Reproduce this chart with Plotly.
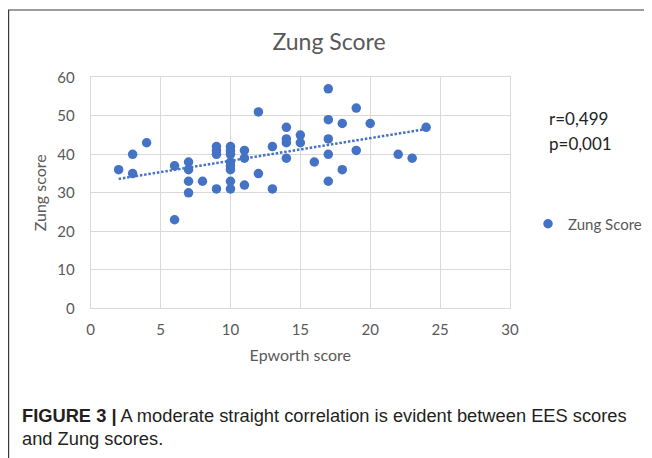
import numpy as np
import plotly.graph_objects as go

epworth = [2, 3, 3, 4, 6, 6, 7, 7, 7, 7, 8,
           9, 9, 9, 9,
           10, 10, 10, 10, 10, 10, 10, 10,
           11, 11, 11, 12, 12, 13, 13,
           14, 14, 14, 14, 15, 15, 16,
           17, 17, 17, 17, 17, 18, 18, 19, 19, 20, 22, 23, 24]
zung = [36, 40, 35, 43, 37, 23, 38, 36, 33, 30, 33,
        42, 41, 40, 31,
        42, 41, 40, 38, 37, 36, 33, 31,
        41, 39, 32, 51, 35, 42, 31,
        47, 44, 43, 39, 45, 43, 38,
        57, 49, 44, 40, 33, 48, 36, 52, 41, 48, 40, 39, 47]

x_ticks = [0, 5, 10, 15, 20, 25, 30]
y_ticks = [0, 10, 20, 30, 40, 50, 60]
stats_text = ["r=0,499", "p=0,001"]

BLUE = "#4472C4"
GRAY = "#595959"
FONT = "Lato"

# page offset of the figure (default body margin)
OFF = 8
W, H = 644, 450


def px(X):
    return (X - OFF) / W


def py(Y):
    return 1 - (Y - OFF) / H


slope, intercept = np.polyfit(epworth, zung, 1)
tx = np.array([min(epworth), max(epworth)], dtype=float)
ty = slope * tx + intercept

fig = go.Figure()
fig.add_trace(go.Scatter(
    x=epworth, y=zung, mode="markers", name="Zung Score",
    marker=dict(color=BLUE, size=9.5, line=dict(width=0)),
))
fig.add_trace(go.Scatter(
    x=tx, y=ty, mode="lines", showlegend=False,
    line=dict(color=BLUE, width=2.5, dash="2.5px,1.8px"),
))

fig.update_layout(
    width=W, height=H,
    margin=dict(l=0, r=0, t=0, b=0, autoexpand=False),
    paper_bgcolor="white", plot_bgcolor="white",
    font=dict(family=FONT, color=GRAY, size=14),
    title=dict(text="Zung Score", x=px(329), xanchor="center",
               y=py(42), yanchor="middle", yref="container",
               font=dict(family=FONT, size=23, color=GRAY)),
    legend=dict(x=px(528), y=py(224), xanchor="left", yanchor="middle",
                font=dict(family=FONT, size=15, color=GRAY),
                bgcolor="rgba(0,0,0,0)", itemwidth=30),
    showlegend=True,
)
fig.update_xaxes(
    domain=[px(90.7), px(510)], automargin=False,
    range=[0, 30], tickvals=x_ticks, showgrid=True, gridcolor="#D9D9D9",
    gridwidth=1, zeroline=False, showline=True, linecolor="#D9D9D9",
    mirror=True, ticks="", tickfont=dict(size=15, color=GRAY),
    ticklabelstandoff=8,
    title=dict(text="Epworth score", font=dict(size=16, color=GRAY), standoff=12),
)
fig.update_yaxes(
    domain=[py(308.3), py(77.3)], automargin=False,
    range=[0, 60], tickvals=y_ticks, showgrid=True, gridcolor="#D9D9D9",
    gridwidth=1, zeroline=False, showline=True, linecolor="#D9D9D9",
    mirror=True, ticks="", tickfont=dict(size=15, color=GRAY),
    ticklabelstandoff=12,
    title=dict(text="Zung score", font=dict(size=16, color=GRAY), standoff=6),
)

for txt, Y in zip(stats_text, [118, 143]):
    fig.add_annotation(x=px(547), y=py(Y), xref="paper", yref="paper",
                       text=txt, showarrow=False, xanchor="left",
                       yanchor="middle", font=dict(family=FONT, size=17, color="#222222"))

CAP_FONT = "Liberation Sans"
fig.add_annotation(x=px(20), y=py(415), xref="paper", yref="paper",
                   text="<b>FIGURE 3 |</b> A moderate straight correlation is evident between EES scores",
                   showarrow=False, xanchor="left", yanchor="middle",
                   font=dict(family=CAP_FONT, size=18.3, color="#231F20"))
fig.add_annotation(x=px(20), y=py(438), xref="paper", yref="paper",
                   text="and Zung scores.",
                   showarrow=False, xanchor="left", yanchor="middle",
                   font=dict(family=CAP_FONT, size=18.3, color="#231F20"))

# outer frame
fig.add_shape(type="rect", xref="paper", yref="paper",
              x0=px(8.6), x1=px(680), y0=py(500), y1=py(10),
              line=dict(color="#3a3a3a", width=1.2), fillcolor="rgba(0,0,0,0)",
              layer="below")

fig.write_html("out.html")
